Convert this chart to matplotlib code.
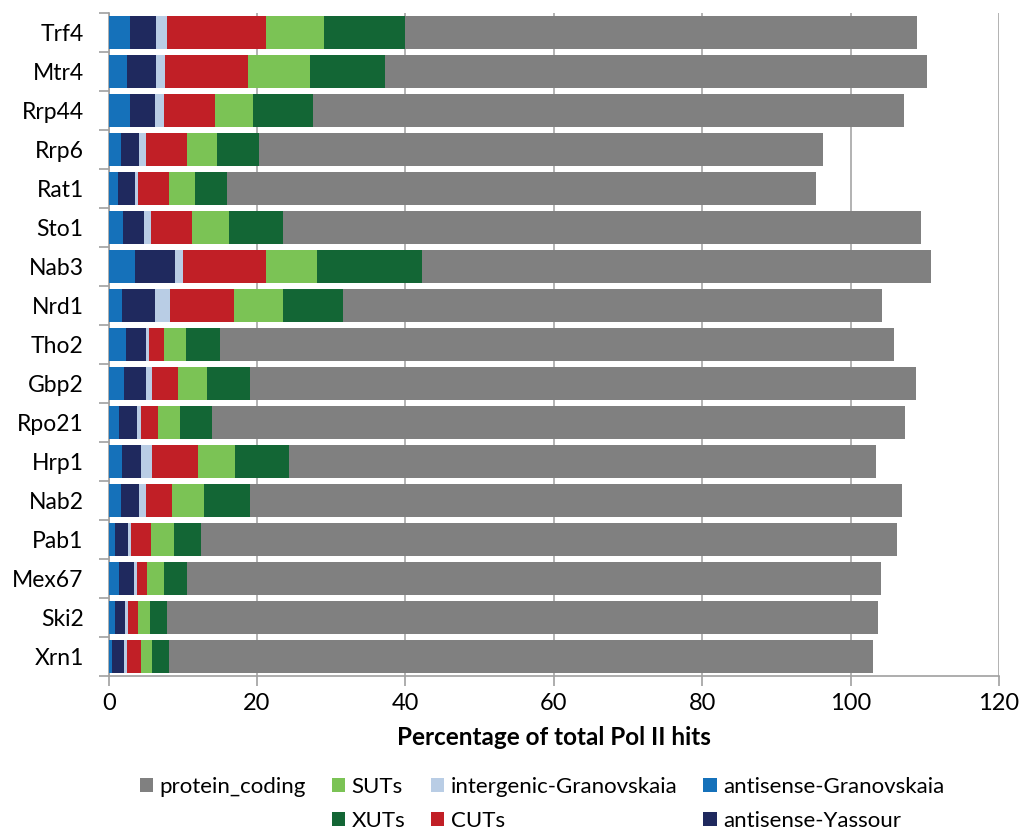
import numpy as np
import matplotlib.pyplot as plt
from matplotlib.patches import Patch

plt.rcParams['font.family'] = ['Lato', 'DejaVu Sans']

# samples, top to bottom
proteins = ['Trf4', 'Mtr4', 'Rrp44', 'Rrp6', 'Rat1', 'Sto1', 'Nab3', 'Nrd1', 'Tho2',
            'Gbp2', 'Rpo21', 'Hrp1', 'Nab2', 'Pab1', 'Mex67', 'Ski2', 'Xrn1']

# percentage of total Pol II hits per transcript class
antisense_granovskaia = [2.9, 2.5, 2.9, 1.7, 1.3, 2.0, 3.5, 1.8, 2.3, 2.1, 1.4, 1.8, 1.7, 0.8, 1.4, 0.8, 0.5]
antisense_yassour = [3.5, 3.9, 3.4, 2.4, 2.2, 2.8, 5.4, 4.5, 2.7, 3.0, 2.4, 2.6, 2.4, 1.8, 2.0, 1.4, 1.6]
intergenic_granovskaia = [1.4, 1.2, 1.1, 0.9, 0.5, 0.9, 1.1, 2.0, 0.4, 0.7, 0.5, 1.4, 0.9, 0.4, 0.4, 0.4, 0.4]
cuts = [13.4, 11.2, 7.0, 5.5, 4.2, 5.5, 11.2, 8.6, 2.0, 3.5, 2.3, 6.2, 3.6, 2.7, 1.4, 1.4, 1.8]
suts = [7.8, 8.4, 5.0, 4.1, 3.5, 5.0, 6.9, 6.6, 3.0, 3.9, 3.0, 5.0, 4.3, 3.1, 2.2, 1.6, 1.6]
xuts = [10.9, 10.1, 8.1, 5.7, 4.3, 7.3, 14.2, 8.1, 4.6, 5.9, 4.3, 7.3, 6.2, 3.6, 3.1, 2.2, 2.2]
protein_coding = [69.0, 73.0, 79.7, 76.0, 79.3, 86.0, 68.5, 72.7, 90.8, 89.7, 93.4, 79.1, 87.8, 93.8, 93.6, 95.9, 94.9]

series = [
    ('antisense-Granovskaia', antisense_granovskaia, '#1571ba'),
    ('antisense-Yassour', antisense_yassour, '#1f295e'),
    ('intergenic-Granovskaia', intergenic_granovskaia, '#b9cde5'),
    ('CUTs', cuts, '#c11f26'),
    ('SUTs', suts, '#7bc355'),
    ('XUTs', xuts, '#136635'),
    ('protein_coding', protein_coding, '#808080'),
]

fig = plt.figure(figsize=(10.25, 8.32), dpi=100)
ax = fig.add_axes([0.106, 0.1875, 0.8686, 0.797])

y = np.arange(len(proteins))
left = np.zeros(len(proteins))
colors = {}
for name, vals, col in series:
    ax.barh(y, vals, left=left, height=0.846, color=col, zorder=3)
    left += np.array(vals)
    colors[name] = col

ax.set_ylim(len(proteins) - 0.5, -0.5)
ax.set_yticks(y)
ax.set_yticklabels(proteins, fontsize=16.5)
ax.set_yticks(np.arange(len(proteins) + 1) - 0.5, minor=True)
ax.tick_params(axis='y', which='major', length=0, pad=18)
ax.tick_params(axis='y', which='minor', length=7, color='#a0a0a0', width=1.2)

ax.set_xlim(0, 120)
ax.set_xticks(np.arange(0, 121, 20))
ax.tick_params(axis='x', labelsize=17, length=7, color='#a0a0a0', width=1.2, pad=5)
ax.xaxis.grid(True, color='#a6a6a6', linewidth=1.2, zorder=0)

for s in ['top', 'right']:
    ax.spines[s].set_visible(False)
for s in ['left', 'bottom']:
    ax.spines[s].set_color('#a0a0a0')
    ax.spines[s].set_linewidth(1.2)

ax.set_xlabel('Percentage of total Pol II hits', fontsize=17.5, fontweight='bold', labelpad=9)

# legend laid out as two rows, with the first column holding only protein_coding
order = ['protein_coding', None, 'SUTs', 'XUTs', 'intergenic-Granovskaia', 'CUTs',
         'antisense-Granovskaia', 'antisense-Yassour']
handles, labels = [], []
for name in order:
    if name is None:
        handles.append(Patch(facecolor='none', edgecolor='none'))
        labels.append('')
    else:
        handles.append(Patch(facecolor=colors[name], edgecolor='none'))
        labels.append(name)
fig.legend(handles, labels, ncol=4, loc='center', bbox_to_anchor=(0.529, 0.034),
           frameon=False, fontsize=16, handlelength=0.6, handleheight=0.6,
           handletextpad=0.3, columnspacing=1.15, labelspacing=0.62)

fig.savefig('out.png', dpi=100)
